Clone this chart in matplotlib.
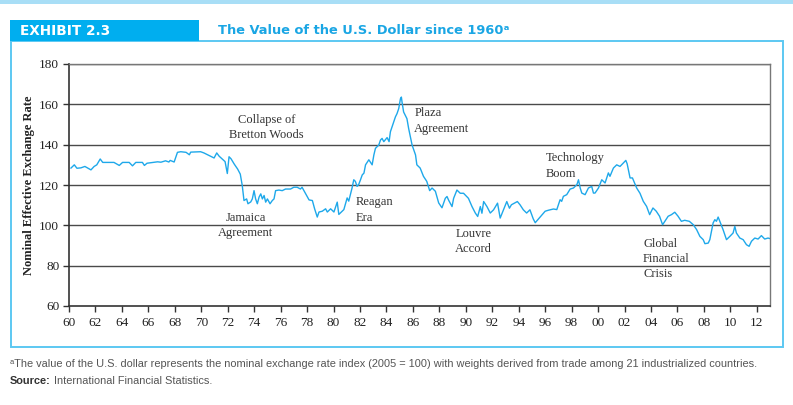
import matplotlib
matplotlib.use("Agg")
import matplotlib.pyplot as plt
from matplotlib.patches import Rectangle

# ---- data ----
years = [
    1960.15, 1960.4, 1960.6, 1960.9, 1961.2, 1961.66, 1961.9, 1962.1, 1962.36, 1962.55,
    1963.4, 1963.8, 1964.05, 1964.55, 1964.8, 1965.05, 1965.55, 1965.7, 1965.9, 1966.7,
    1966.95, 1967.3, 1967.55, 1967.65, 1967.95, 1968.2, 1968.45, 1968.85, 1969.1, 1969.2,
    1969.95, 1970.2, 1970.97, 1971.17, 1971.35, 1971.6, 1971.8, 1971.97, 1972.1, 1972.25,
    1972.5, 1972.75, 1972.95, 1973.1, 1973.23, 1973.43, 1973.53, 1973.74, 1973.86, 1973.99,
    1974.11, 1974.24, 1974.37, 1974.5, 1974.62, 1974.75, 1974.87, 1975.0, 1975.2, 1975.37,
    1975.5, 1975.62, 1975.87, 1976.12, 1976.37, 1976.75, 1977.0, 1977.25, 1977.5, 1977.62,
    1977.9, 1978.15, 1978.4, 1978.57, 1978.77, 1978.9, 1979.15, 1979.4, 1979.53, 1979.78,
    1980.03, 1980.28, 1980.4, 1980.53, 1980.78, 1981.03, 1981.15, 1981.4, 1981.53, 1981.65,
    1981.78, 1981.9, 1982.04, 1982.17, 1982.3, 1982.42, 1982.67, 1982.92, 1983.05, 1983.17,
    1983.42, 1983.55, 1983.67, 1983.8, 1984.05, 1984.2, 1984.3, 1984.55, 1984.68, 1984.8,
    1984.93, 1985.06, 1985.13, 1985.18, 1985.3, 1985.55, 1985.68, 1985.94, 1986.2, 1986.3,
    1986.55, 1986.8, 1987.05, 1987.27, 1987.45, 1987.7, 1987.95, 1988.2, 1988.45, 1988.58,
    1988.7, 1988.96, 1989.08, 1989.33, 1989.58, 1989.83, 1990.2, 1990.47, 1990.72, 1990.9,
    1991.1, 1991.22, 1991.35, 1991.6, 1991.85, 1992.1, 1992.4, 1992.6, 1992.85, 1993.1,
    1993.3, 1993.45, 1993.9, 1994.1, 1994.35, 1994.6, 1994.85, 1995.1, 1995.25, 1995.5,
    1996.0, 1996.25, 1996.63, 1996.88, 1997.13, 1997.25, 1997.38, 1997.63, 1997.89, 1998.14,
    1998.4, 1998.52, 1998.65, 1998.77, 1999.02, 1999.27, 1999.52, 1999.65, 1999.77, 2000.03,
    2000.28, 2000.53, 2000.78, 2000.9, 2001.16, 2001.41, 2001.66, 2001.91, 2002.1, 2002.2,
    2002.42, 2002.6, 2002.92, 2003.17, 2003.42, 2003.67, 2003.9, 2004.15, 2004.4, 2004.65,
    2004.88, 2005.05, 2005.3, 2005.55, 2005.8, 2006.05, 2006.3, 2006.55, 2006.9, 2007.2,
    2007.45, 2007.7, 2007.95, 2008.08, 2008.33, 2008.45, 2008.7, 2008.83, 2008.95, 2009.08,
    2009.25, 2009.45, 2009.71, 2009.96, 2010.21, 2010.34, 2010.46, 2010.72, 2010.97, 2011.22,
    2011.42, 2011.6, 2011.85, 2012.1, 2012.35, 2012.6, 2012.85, 2012.95,
]
index_values = [
    128.4, 130.0, 128.3, 128.5, 129.2, 127.5, 129.2, 130.0, 132.9, 131.2,
    131.2, 129.7, 131.2, 131.2, 129.5, 131.2, 131.2, 129.7, 130.8, 131.5,
    131.3, 132.0, 131.4, 132.2, 131.4, 136.2, 136.5, 136.2, 135.0, 136.3,
    136.5, 135.9, 133.4, 135.9, 134.3, 132.8, 131.6, 125.7, 134.0, 133.0,
    130.3, 127.9, 125.4, 119.7, 112.3, 113.1, 110.7, 111.6, 113.1, 117.2,
    113.1, 110.7, 114.0, 115.6, 113.1, 114.8, 111.5, 113.1, 110.7, 112.3,
    113.1, 117.2, 117.5, 117.2, 118.0, 118.0, 118.9, 118.9, 118.0, 118.9,
    115.6, 112.6, 112.3, 108.2, 104.1, 106.6, 107.0, 108.2, 106.6, 108.2,
    106.6, 111.5, 105.4, 106.2, 107.8, 113.6, 112.0, 118.5, 122.6, 121.8,
    119.3, 120.2, 122.6, 125.0, 125.9, 130.0, 132.5, 130.0, 134.9, 138.2,
    139.8, 142.3, 143.1, 141.5, 143.5, 141.5, 146.4, 151.3, 153.8, 155.4,
    157.9, 162.8, 163.6, 161.1, 156.2, 152.9, 148.0, 139.8, 134.9, 130.0,
    128.4, 124.3, 121.8, 117.2, 118.5, 116.9, 111.1, 108.7, 113.4, 114.3,
    112.5, 109.3, 113.4, 117.5, 115.9, 115.9, 113.4, 109.3, 106.1, 104.4,
    109.3, 106.0, 111.8, 109.3, 106.1, 107.7, 111.0, 103.6, 107.7, 111.8,
    108.5, 110.2, 111.8, 110.2, 107.7, 106.1, 107.7, 103.2, 101.3, 103.2,
    107.0, 107.5, 108.1, 107.8, 112.7, 111.9, 114.4, 115.2, 118.0, 118.5,
    120.2, 122.6, 118.5, 116.0, 115.2, 118.5, 119.3, 116.0, 116.0, 118.5,
    122.6, 121.0, 126.0, 124.3, 128.4, 130.0, 129.2, 130.9, 132.2, 130.5,
    123.5, 123.5, 118.5, 115.9, 111.9, 109.4, 105.3, 108.6, 107.0, 104.5,
    100.3, 102.0, 104.5, 105.3, 106.5, 104.5, 102.0, 102.5, 102.0, 100.3,
    97.9, 94.5, 92.9, 90.9, 91.2, 92.9, 101.2, 102.8, 102.0, 104.1,
    101.2, 97.9, 92.9, 94.5, 96.2, 99.5, 96.2, 93.7, 92.9, 90.4,
    89.6, 92.1, 93.7, 93.2, 94.9, 93.2, 93.7, 93.5,
]
x_ticks = list(range(1960, 2013, 2))
x_tick_labels = ["%02d" % (y % 100) for y in x_ticks]
y_ticks = [60, 80, 100, 120, 140, 160, 180]

annotations = [
    ("Collapse of\nBretton Woods", 1974.95, 148.5, "center"),
    ("Jamaica\nAgreement", 1973.35, 100.0, "center"),
    ("Reagan\nEra", 1981.7, 107.6, "left"),
    ("Plaza\nAgreement", 1986.1, 151.7, "left"),
    ("Louvre\nAccord", 1989.2, 91.8, "left"),
    ("Technology\nBoom", 1996.05, 129.4, "left"),
    ("Global\nFinancial\nCrisis", 2003.4, 83.2, "left"),
]

# ---- figure ----
W, H = 793, 405
fig = plt.figure(figsize=(W / 100, H / 100), dpi=100)
fig.patch.set_facecolor("white")

def fx(px):
    return px / W

def fy(py):
    return 1 - py / H

BLUE = "#00aeef"
LIGHT = "#5cc8f2"

# top light bar
fig.patches.append(Rectangle((0, fy(4)), 1, 4 / H, transform=fig.transFigure,
                             facecolor="#a8def6", edgecolor="none"))
# outer frame
fig.patches.append(Rectangle((fx(10.5), fy(347)), fx(772.5), (347 - 41) / H,
                             transform=fig.transFigure, facecolor="none",
                             edgecolor=LIGHT, lw=1.4))
# exhibit box
fig.patches.append(Rectangle((fx(10), fy(41)), fx(189), 21 / H, transform=fig.transFigure,
                             facecolor=BLUE, edgecolor="none"))
fig.text(fx(20), fy(31), "EXHIBIT 2.3", color="white", fontsize=9.8, fontweight="bold",
         family="DejaVu Sans", va="center", ha="left")
fig.text(fx(218), fy(30), "The Value of the U.S. Dollar since 1960ᵃ", color="#1aa6e4",
         fontsize=9.4, fontweight="bold", family="DejaVu Sans",
         va="center", ha="left")

# ---- axes ----
ax = fig.add_axes([fx(69), fy(306), fx(770 - 69), (306 - 64) / H])
ax.plot(years, index_values, color="#1ea8ea", lw=1.0)
ax.set_xlim(1960, 2013)
ax.set_ylim(60, 180)
ax.set_xticks(x_ticks)
ax.set_xticklabels(x_tick_labels)
ax.set_yticks(y_ticks)
for v in y_ticks[1:]:
    ax.axhline(v, color="#4a4a4a", lw=1.0, zorder=0)
for lab in ax.get_xticklabels() + ax.get_yticklabels():
    lab.set_family("Liberation Serif")
    lab.set_fontsize(9.5)
    lab.set_color("#222222")
ax.tick_params(axis="both", direction="out", length=4, width=1, color="#333333", pad=3)
ax.tick_params(axis="x", pad=4)
for side in ["left", "bottom"]:
    ax.spines[side].set_color("#333333")
    ax.spines[side].set_linewidth(1.2)
for side in ["top", "right"]:
    ax.spines[side].set_color("#777777")
    ax.spines[side].set_linewidth(1.0)
ax.set_ylabel("Nominal Effective Exchange Rate", family="Liberation Serif",
              fontweight="bold", fontsize=9, color="#222222", labelpad=3)

for text, x, y, ha in annotations:
    ax.text(x, y, text, ha=ha, va="center", family="Liberation Serif", fontsize=9,
            color="#333333", linespacing=1.35)

# ---- footnotes ----
FOOT = ["Liberation Sans Narrow", "Liberation Sans", "DejaVu Sans"]
fig.text(fx(10), fy(364), "ᵃThe value of the U.S. dollar represents the nominal exchange rate index "
         "(2005 = 100) with weights derived from trade among 21 industrialized countries.",
         family=FOOT, fontsize=7.9, color="#555555", va="center", ha="left")
src = fig.text(fx(10), fy(381), "Source:", family=FOOT,
               fontsize=7.9, fontweight="bold", color="#333333", va="center", ha="left")
renderer = fig.canvas.get_renderer()
bb = src.get_window_extent(renderer=renderer)
fig.text(bb.x1 / W + fx(3), fy(381), "International Financial Statistics.",
         family=FOOT, fontsize=7.9, color="#555555", va="center", ha="left")

fig.savefig("out.png", dpi=100)
